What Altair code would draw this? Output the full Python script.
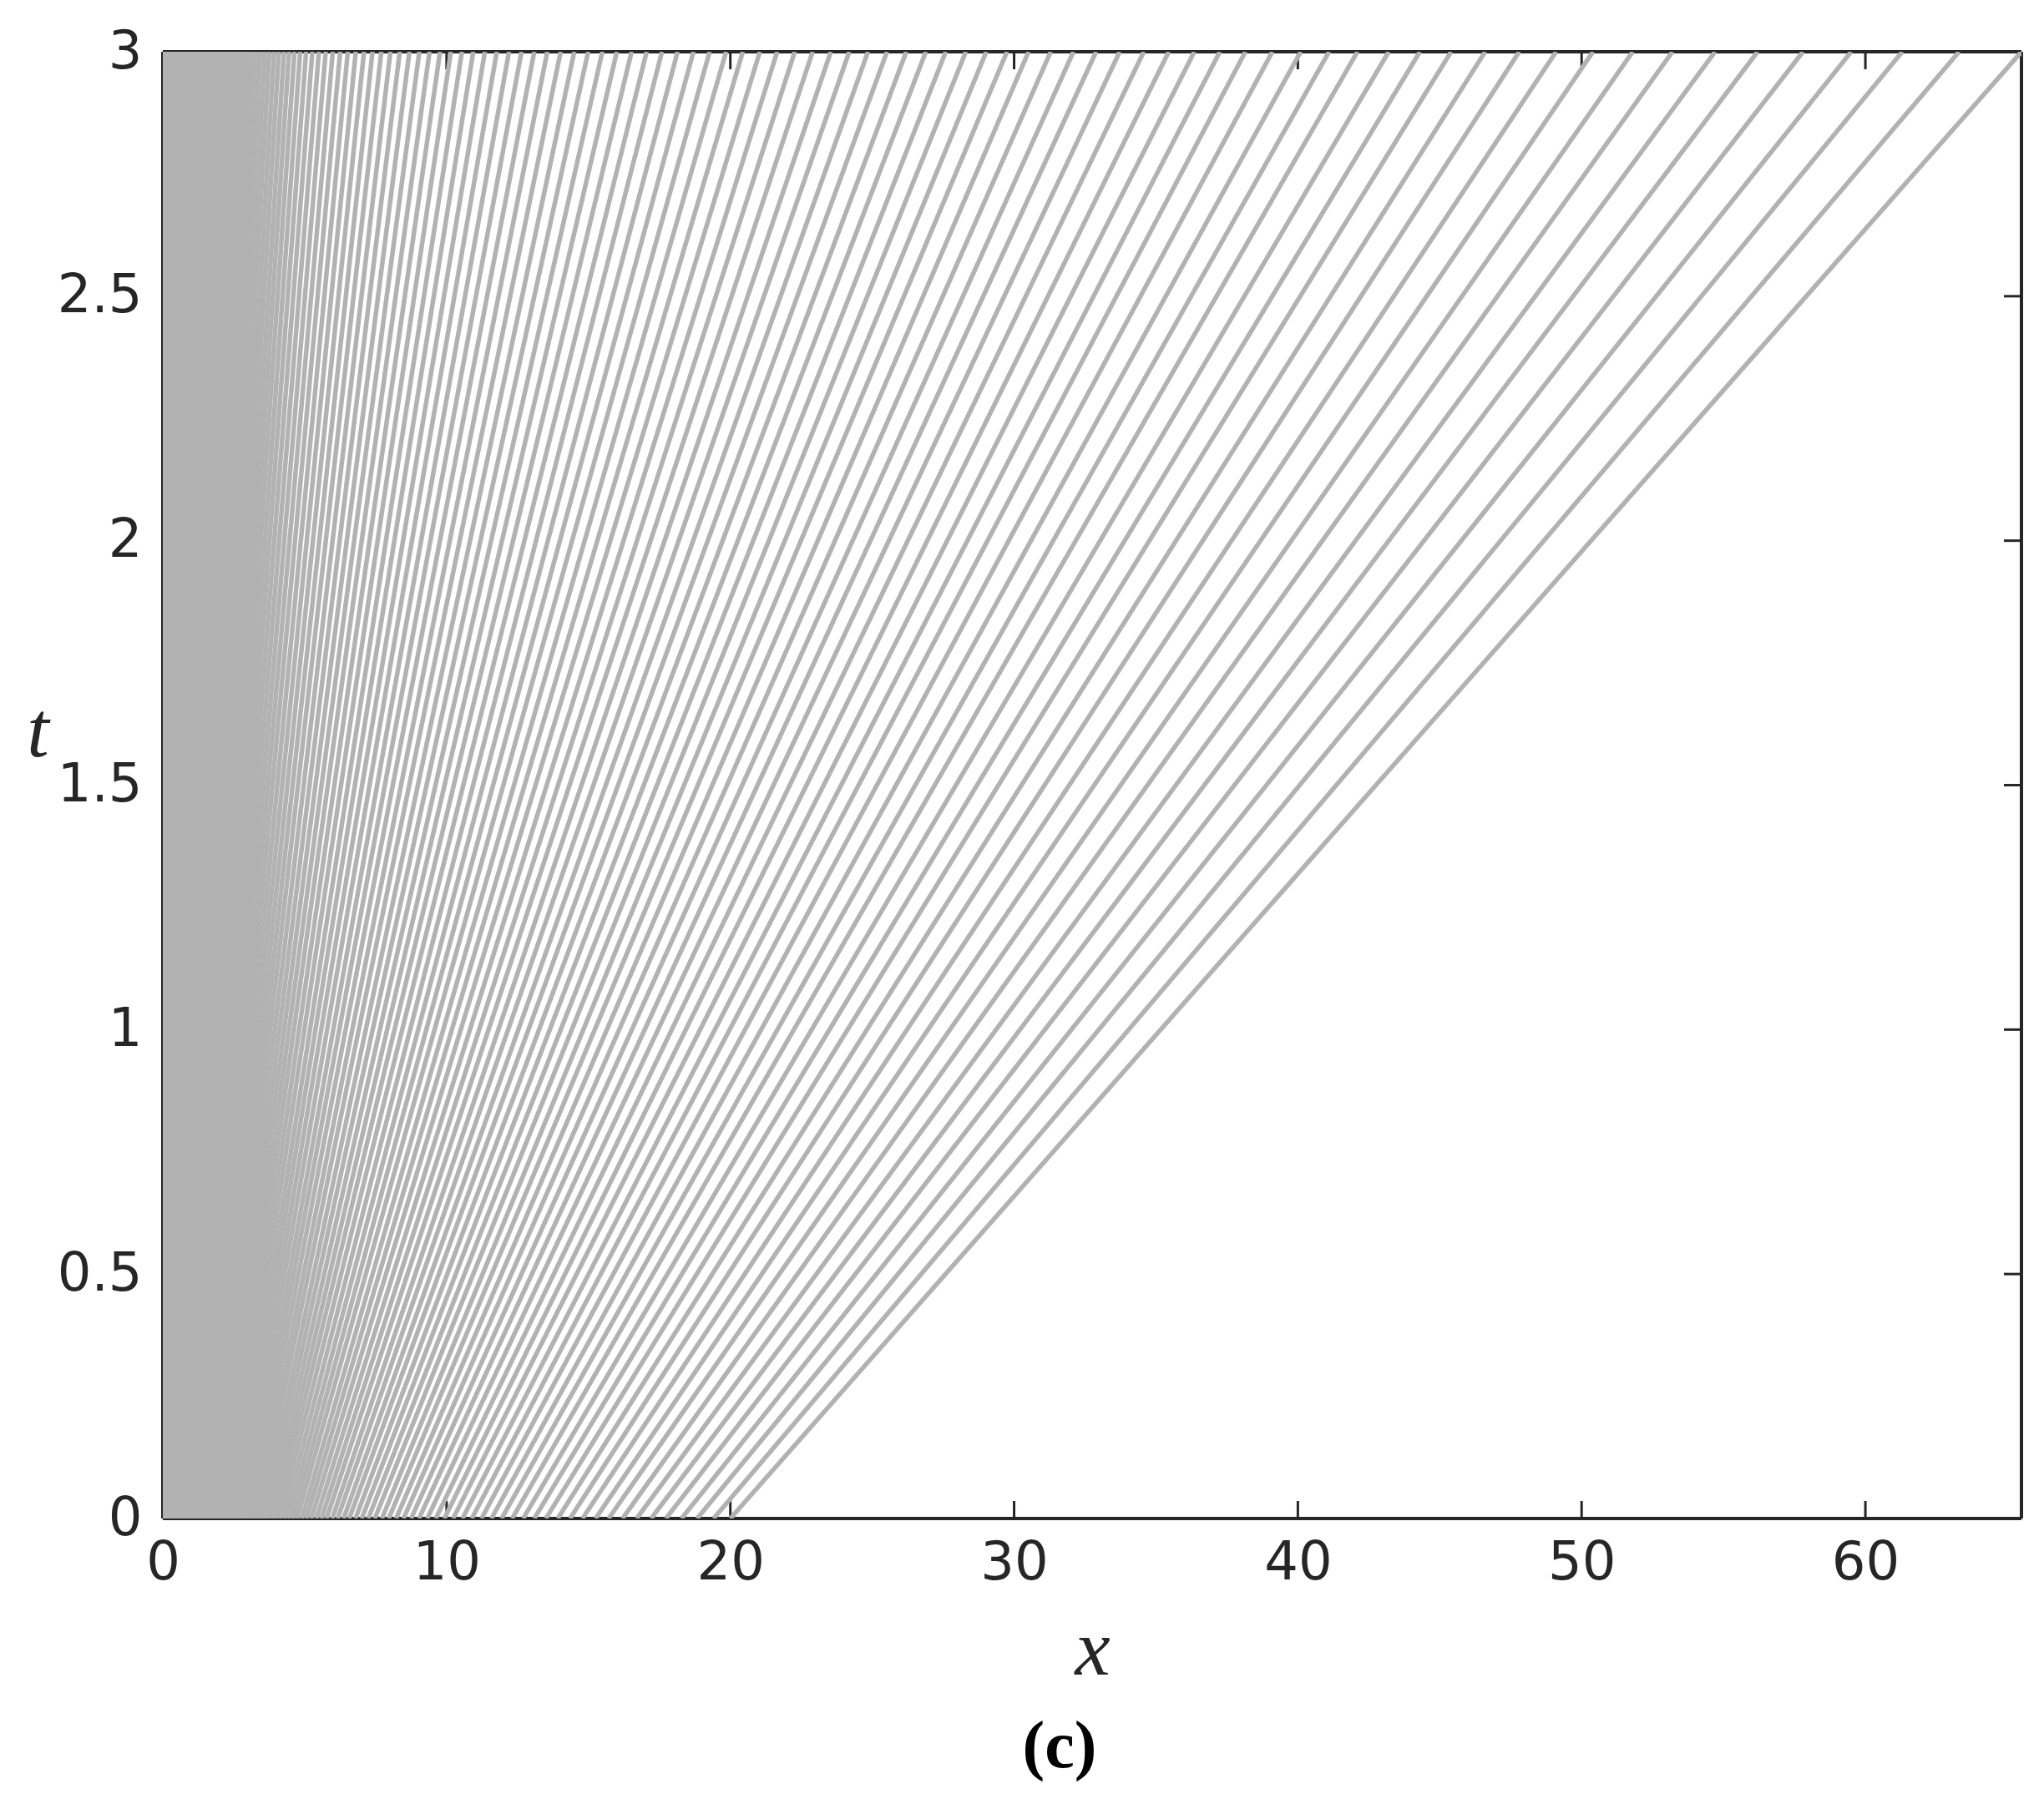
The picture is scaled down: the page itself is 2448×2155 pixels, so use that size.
import altair as alt
import pandas as pd

# Characteristic lines: position at t=0 and at t=3
X_START = [
    20.0, 19.41, 18.83, 18.28, 17.73, 17.21, 16.7, 16.2, 15.71, 15.25,
    14.79, 14.35, 13.92, 13.5, 13.09, 12.7, 12.31, 11.94, 11.58, 11.23,
    10.89, 10.56, 10.23, 9.92, 9.62, 9.32, 9.03, 8.75, 8.48, 8.22,
    7.96, 7.72, 7.47, 7.24, 7.01, 6.79, 6.57, 6.37, 6.16, 5.97,
    5.77, 5.59, 5.41, 5.23, 5.06, 4.9, 4.73, 4.58, 4.43, 4.28,
    4.13, 3.99, 3.86, 3.73, 3.6, 3.48, 3.35, 3.24, 3.12, 3.01,
    2.91, 2.8, 2.7, 2.6, 2.51, 2.41, 2.32, 2.23, 2.15, 2.07,
    1.99, 1.91, 1.83, 1.76, 1.69, 1.62, 1.55, 1.48, 1.42, 1.36,
    1.3, 1.24, 1.18, 1.13, 1.07, 1.02, 0.97, 0.92, 0.87, 0.83,
    0.78, 0.74, 0.69, 0.65, 0.61, 0.57, 0.54, 0.5, 0.46, 0.43,
    0.39, 0.36, 0.33, 0.3,
]
X_END = [
    65.5, 63.3, 61.3, 59.5, 57.8, 56.2, 54.7, 53.2, 51.8, 50.4,
    49.1, 47.8, 46.6, 45.4, 44.3, 43.2, 42.1, 41.1, 40.1, 39.1,
    38.15, 37.25, 36.35, 35.45, 34.57, 33.72, 32.89, 32.09, 31.29, 30.51,
    29.75, 29.02, 28.3, 27.59, 26.89, 26.2, 25.52, 24.85, 24.19, 23.54,
    22.9, 22.27, 21.65, 21.04, 20.44, 19.85, 19.27, 18.7, 18.14, 17.59,
    17.05, 16.52, 16.0, 15.49, 14.99, 14.5, 14.02, 13.55, 13.09, 12.64,
    12.2, 11.77, 11.35, 10.94, 10.54, 10.15, 9.77, 9.4, 9.04, 8.69,
    8.35, 8.02, 7.7, 7.39, 7.09, 6.8, 6.52, 6.25, 5.99, 5.74,
    5.5, 5.27, 5.05, 4.84, 4.64, 4.45, 4.27, 4.09, 3.92, 3.75,
    3.59, 3.43, 3.28, 3.13, 2.99, 2.85, 2.72, 2.59, 2.47, 2.35,
    2.24, 2.13, 2.03, 1.93,
]
T_START = 0.0
T_END = 3.0

# dense core of lines near x = 0 (solid grey band)
CORE_T = [0.0, 3.0]
CORE_X_LEFT = [0.0, 0.0]
CORE_X_RIGHT = [0.30, 1.93]

X_TICKS = [0, 10, 20, 30, 40, 50, 60]
Y_TICKS = [0, 0.5, 1, 1.5, 2, 2.5, 3]
X_MAX = 65.5

GRAY = "#b2b2b2"
INK = "#262626"
W, H = 2226, 1757
TICK = 21

lines_df = pd.DataFrame({"x0": X_START, "x1": X_END, "t0": T_START, "t1": T_END})
core_df = pd.DataFrame({"t": CORE_T, "xl": CORE_X_LEFT, "xr": CORE_X_RIGHT})
xt_df = pd.DataFrame({"x": X_TICKS})
yt_df = pd.DataFrame({"y": Y_TICKS})

xscale = alt.Scale(domain=[0, X_MAX], nice=False, zero=False)
yscale = alt.Scale(domain=[0, 3], nice=False, zero=False)

AX_X = alt.Axis(
    values=X_TICKS, ticks=False, domain=False, grid=False,
    labelFont="DejaVu Sans", labelFontSize=64, labelColor=INK, labelPadding=21,
    labelFlush=False, labelOverlap=False, labelExpr="'' + datum.value",
    title="x", titleFont="Liberation Serif", titleFontStyle="italic",
    titleFontWeight="normal", titleFontSize=95, titleColor=INK,
    titleX=W / 2, titleY=186, titleAlign="center", titleBaseline="alphabetic",
)
AX_Y = alt.Axis(
    values=Y_TICKS, ticks=False, domain=False, grid=False,
    labelFont="DejaVu Sans", labelFontSize=64, labelColor=INK, labelPadding=25,
    labelFlush=False, labelOverlap=False, labelExpr="'' + datum.value",
    title="t", titleAngle=0, titleFont="Liberation Serif", titleFontStyle="italic",
    titleFontWeight="normal", titleFontSize=95, titleColor=INK,
    titleX=-150, titleY=843, titleAlign="center", titleBaseline="alphabetic",
)

RULE = dict(color=INK, strokeWidth=3.5)

frame_bottom = alt.Chart(xt_df).mark_rule(**RULE).encode(
    x=alt.value(0), x2=alt.value(W), y=alt.value(H))
frame_top = alt.Chart(xt_df).mark_rule(**RULE).encode(
    x=alt.value(0), x2=alt.value(W), y=alt.value(0))
frame_left = alt.Chart(yt_df).mark_rule(**RULE).encode(
    y=alt.value(0), y2=alt.value(H), x=alt.value(0))
frame_right = alt.Chart(yt_df).mark_rule(**RULE).encode(
    y=alt.value(0), y2=alt.value(H), x=alt.value(W))

tick_bottom = alt.Chart(xt_df).mark_rule(color=INK, strokeWidth=3).encode(
    x=alt.X("x:Q", scale=xscale, axis=AX_X),
    y=alt.value(H), y2=alt.value(H - TICK),
)
tick_top = alt.Chart(xt_df).mark_rule(color=INK, strokeWidth=3).encode(
    x=alt.X("x:Q", scale=xscale, axis=AX_X),
    y=alt.value(0), y2=alt.value(TICK),
)
tick_left = alt.Chart(yt_df).mark_rule(color=INK, strokeWidth=3).encode(
    y=alt.Y("y:Q", scale=yscale, axis=AX_Y),
    x=alt.value(0), x2=alt.value(TICK),
)
tick_right = alt.Chart(yt_df).mark_rule(color=INK, strokeWidth=3).encode(
    y=alt.Y("y:Q", scale=yscale, axis=AX_Y),
    x=alt.value(W), x2=alt.value(W - TICK),
)

core = alt.Chart(core_df).mark_area(color=GRAY, orient="horizontal", opacity=1, clip=True).encode(
    y=alt.Y("t:Q", scale=yscale, axis=AX_Y),
    x=alt.X("xl:Q", scale=xscale, axis=AX_X),
    x2="xr:Q",
)

lines = alt.Chart(lines_df).mark_rule(color=GRAY, strokeWidth=5.5, clip=True, strokeCap="butt").encode(
    x=alt.X("x0:Q", scale=xscale, axis=AX_X),
    x2="x1:Q",
    y=alt.Y("t0:Q", scale=yscale, axis=AX_Y),
    y2="t1:Q",
)

chart = alt.layer(
    frame_bottom, frame_top, frame_left, frame_right,
    tick_bottom, tick_top, tick_left, tick_right, core, lines,
).properties(
    width=W, height=H,
    padding={"left": 187, "top": 54, "right": 19, "bottom": 330},
    autosize=alt.AutoSizeParams(type="none"),
    title=alt.TitleParams(
        text="(c)", orient="bottom", font="Liberation Serif", fontWeight="bold",
        fontSize=80, color="black", offset=30, dx=-39, anchor="middle",
    ),
).configure_view(stroke=None)

chart.save("out.html", embed_options={"renderer": "svg", "actions": False})
